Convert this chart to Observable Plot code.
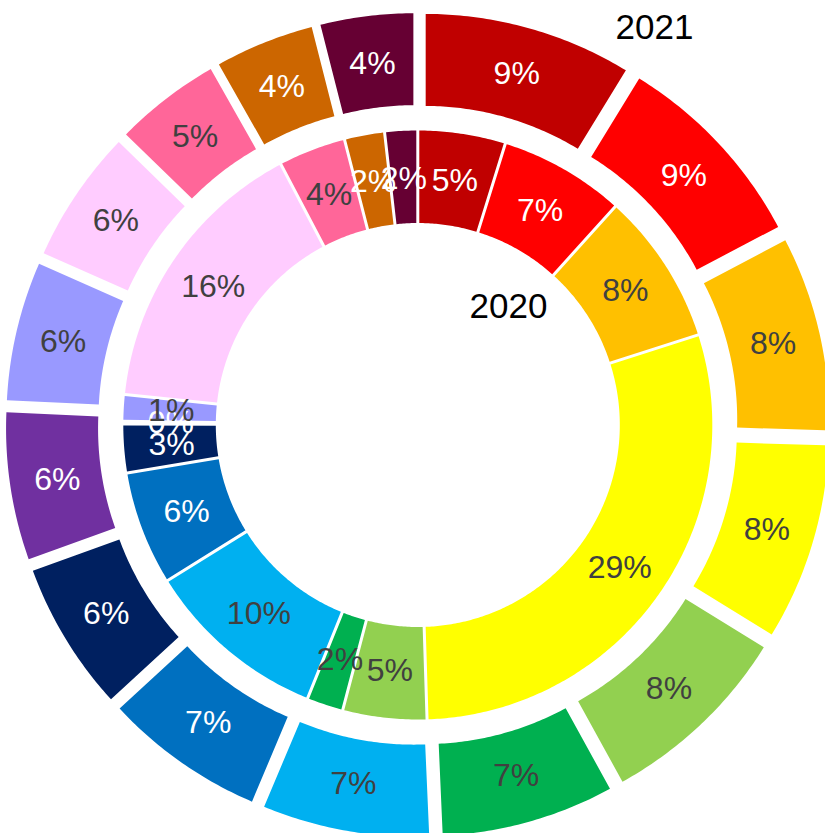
<!DOCTYPE html>
<html>
<head>
<meta charset="utf-8">
<script src="https://cdn.jsdelivr.net/npm/d3@7"></script>
<script src="https://cdn.jsdelivr.net/npm/@observablehq/plot@0.6"></script>
<style>
  html, body { margin: 0; padding: 0; background: #fff; overflow: hidden; }
  #chart svg { display: block; overflow: hidden; }
</style>
</head>
<body>
<div id="chart"></div>
<script>
// ---- data ----
const categories = ["C01","C02","C03","C04","C05","C06","C07","C08","C09","C10","C11","C12","C13","C14","C15"];
const colors = ["#C00000","#FF0000","#FFC000","#FFFF00","#92D050","#00B050","#00B0F0","#0070C0",
                "#002060","#7030A0","#9999FF","#FFCCFF","#FF6699","#CC6600","#660033"];
const labelColors = ["#FFFFFF","#FFFFFF","#404040","#404040","#404040","#404040","#404040","#FFFFFF",
                     "#FFFFFF","#FFFFFF","#404040","#404040","#404040","#FFFFFF","#FFFFFF"];
const values2020 = [4.8, 6.9, 8.35, 29.45, 4.6, 2.0, 10.05, 6.25, 2.65, 0.15, 1.45, 15.65, 3.7, 2.2, 1.8];
const values2021 = [8.75, 8.55, 8.2, 8.3, 8.2, 7.3, 7.05, 6.8, 6.33, 6.25, 5.9, 5.65, 4.52, 4.23, 3.97];
const years = ["2020", "2021"];

// ---- layout ----
const W = 825, H = 833;
const cx = 417.3, cy = 424.5;
const rings = [
  {year: years[0], values: values2020, r0: 202,   r1: 294.5, explode: 0,    gap: 3, labelR: 247},
  {year: years[1], values: values2021, r0: 296.5, r1: 388.5, explode: 23.5, gap: 3, labelR: 364.5}
];

const polys = [], labels = [];
for (const ring of rings) {
  const total = d3.sum(ring.values);
  let acc = 0;
  ring.values.forEach((v, i) => {
    const a0 = acc / total * 2 * Math.PI; acc += v;
    const a1 = acc / total * 2 * Math.PI;
    const mid = (a0 + a1) / 2;
    const ox = ring.explode * Math.sin(mid), oy = ring.explode * Math.cos(mid);
    const d1 = Math.asin(ring.gap / 2 / ring.r1), d0 = Math.asin(ring.gap / 2 / ring.r0);
    const key = ring.year + "-" + categories[i];
    if (a1 - a0 > 2 * d0) {
      const n = Math.max(2, Math.ceil((a1 - a0) / 0.01));
      for (let k = 0; k <= n; k++) {
        const a = (a0 + d1) + (a1 - a0 - 2 * d1) * k / n;
        polys.push({key, color: colors[i], x: ox + ring.r1 * Math.sin(a), y: oy + ring.r1 * Math.cos(a)});
      }
      for (let k = 0; k <= n; k++) {
        const a = (a1 - d0) - (a1 - a0 - 2 * d0) * k / n;
        polys.push({key, color: colors[i], x: ox + ring.r0 * Math.sin(a), y: oy + ring.r0 * Math.cos(a)});
      }
    }
    labels.push({
      text: Math.round(v / total * 100) + "%",
      x: ring.labelR * Math.sin(mid),
      y: ring.labelR * Math.cos(mid),
      color: labelColors[i]
    });
  });
}

const font = "'Liberation Sans', Arial, Helvetica, sans-serif";
const chart = Plot.plot({
  width: W, height: H,
  margin: 0,
  style: {fontFamily: font, background: "#fff"},
  x: {domain: [-cx, W - cx], range: [0, W], axis: null},
  y: {domain: [-(H - cy), cy], range: [H, 0], axis: null},
  color: {type: "identity"},
  marks: [
    Plot.line(polys, {x: "x", y: "y", z: "key", fill: "color", stroke: "none", curve: "linear-closed"}),
    Plot.text(labels, {x: "x", y: "y", text: "text", fill: "color", fontSize: 32}),
    Plot.text([years[1]], {frameAnchor: "top-left", textAnchor: "middle", lineAnchor: "middle", dx: 654, dy: 27, text: d => d, fill: "#000", fontSize: 35}),
    Plot.text([years[0]], {frameAnchor: "top-left", textAnchor: "middle", lineAnchor: "middle", dx: 508, dy: 306, text: d => d, fill: "#000", fontSize: 35})
  ]
});
document.getElementById("chart").appendChild(chart);
</script>
</body>
</html>
